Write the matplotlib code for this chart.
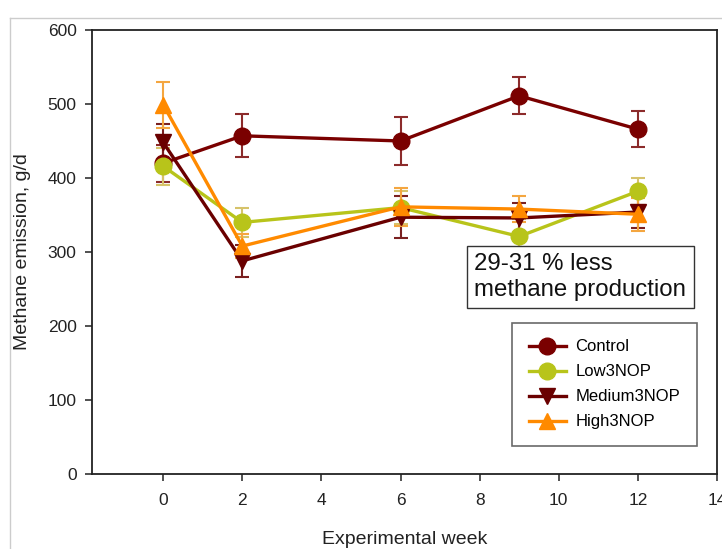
import matplotlib
matplotlib.use("Agg")
import matplotlib.pyplot as plt
from matplotlib.lines import Line2D

plt.rcParams["font.family"] = ["Liberation Sans", "DejaVu Sans"]

# 数据
weeks = [0, 2, 6, 9, 12]

control = [420, 457, 450, 511, 466]
control_err = [25, 29, 32, 25, 24]

low = [416, 340, 360, 321, 382]
low_err = [25, 20, 22, 24, 18]

medium = [448, 288, 347, 346, 354]
medium_err = [25, 22, 28, 20, 22]

high = [499, 308, 361, 358, 351]
high_err = [31, 16, 26, 18, 22]

series = [
    ("Control", control, control_err, "#7a0000", "#8c2b2b", "o"),
    ("Low3NOP", low, low_err, "#b8c41a", "#d6c36a", "o"),
    ("Medium3NOP", medium, medium_err, "#6a0000", "#7a2020", "v"),
    ("High3NOP", high, high_err, "#ff8a00", "#f4a640", "^"),
]

fig = plt.figure(figsize=(7.22, 5.49), dpi=100)
ax = fig.add_axes([0.1274, 0.1366, 0.8656, 0.8088])

handles = []
for name, vals, errs, color, ecolor, marker in series:
    ax.errorbar(weeks, vals, yerr=errs, fmt="none", ecolor=ecolor,
                elinewidth=1.5, capsize=5, capthick=1.5, zorder=2)
    ax.plot(weeks, vals, "-", color=color, linewidth=2.4,
            marker=marker, markersize=12, markerfacecolor=color,
            markeredgecolor=color, zorder=3)
    handles.append(Line2D([0], [0], color=color, linewidth=2.4, marker=marker,
                          markersize=12, markerfacecolor=color,
                          markeredgecolor=color, label=name))

ax.set_xlim(-1.8, 14)
ax.set_ylim(0, 600)
ax.set_xticks(range(0, 15, 2))
ax.set_yticks(range(0, 601, 100))
ax.tick_params(direction="out", length=5, width=1.2, labelsize=12.5,
               color="#333333", labelcolor="#222222")
ax.tick_params(axis="x", pad=9)
ax.tick_params(axis="y", pad=6)
for s in ax.spines.values():
    s.set_linewidth(1.3)
    s.set_color("#222222")

ax.set_xlabel("Experimental week", fontsize=14, color="#222222", labelpad=16)
ax.set_ylabel("Methane emission, g/d", fontsize=14, color="#222222", labelpad=12)

leg = ax.legend(handles=handles, loc="lower right", bbox_to_anchor=(0.968, 0.063),
                borderaxespad=0, fontsize=12, frameon=True, fancybox=False,
                handlelength=2.2, labelspacing=0.6, borderpad=1.0,
                handletextpad=0.6)
leg.get_frame().set_edgecolor("#444444")
leg.get_frame().set_linewidth(1.2)

ax.text(0.612, 0.497, "29-31 % less\nmethane production", transform=ax.transAxes,
        fontsize=17.3, color="#111111", va="top", ha="left", linespacing=1.2,
        bbox=dict(boxstyle="square,pad=0.3", facecolor="white",
                  edgecolor="#333333", linewidth=1.0), zorder=6)

# 幻灯片边框
fig.add_artist(Line2D([10 / 722, 10 / 722], [0, 1 - 18 / 549],
                      transform=fig.transFigure, color="#cccccc", linewidth=1))
fig.add_artist(Line2D([10 / 722, 1], [1 - 18 / 549, 1 - 18 / 549],
                      transform=fig.transFigure, color="#cccccc", linewidth=1))

fig.savefig("out.png", dpi=100)
